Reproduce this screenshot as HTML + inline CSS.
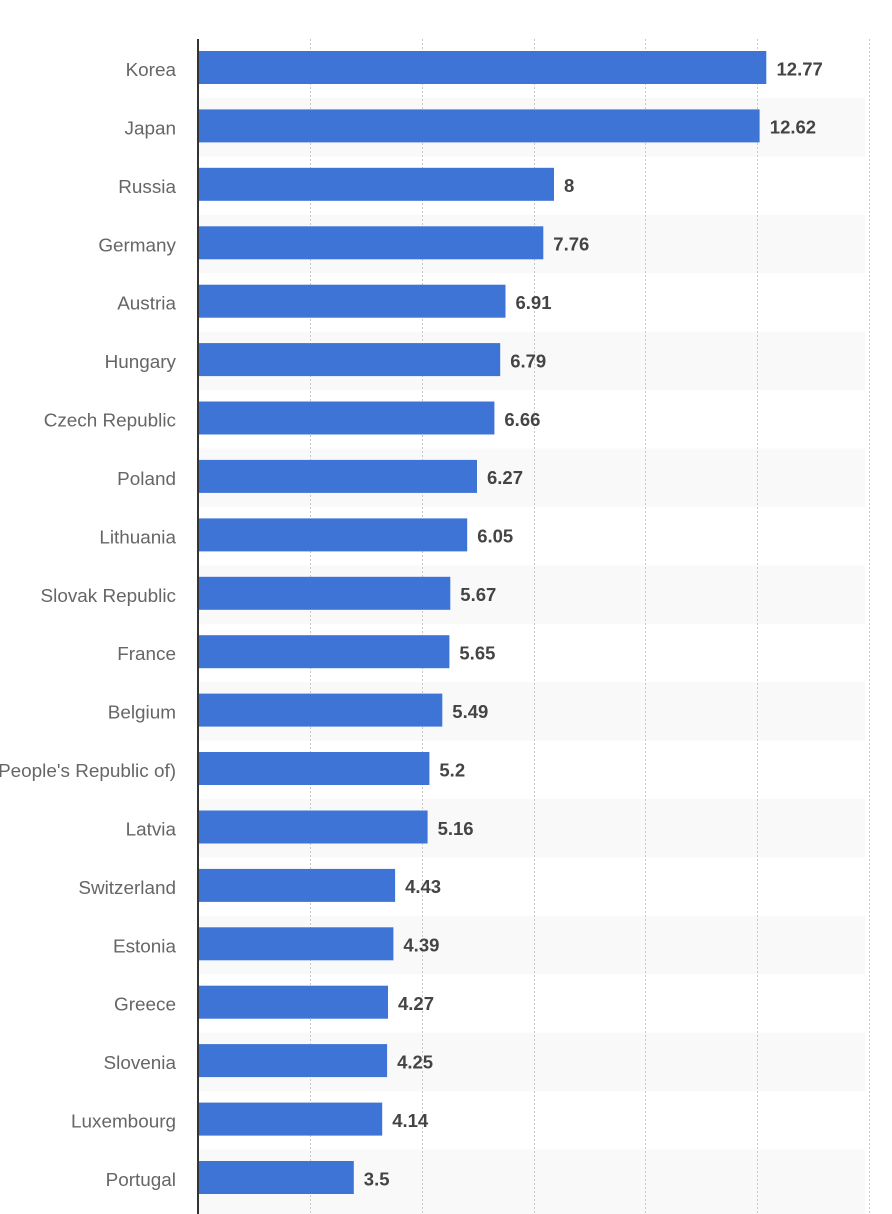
<!DOCTYPE html>
<html>
<head>
<meta charset="utf-8">
<style>
html,body{margin:0;padding:0;background:#fff;}
svg{display:block;}
.lab{font-family:"Liberation Sans",Arial,sans-serif;font-size:18.9px;fill:#666;}
.val{font-family:"Liberation Sans",Arial,sans-serif;font-size:18.5px;font-weight:bold;fill:#444;}
</style>
</head>
<body>
<svg width="892" height="1214" viewBox="0 0 892 1214" xmlns="http://www.w3.org/2000/svg">
<rect width="892" height="1214" fill="#fff"/>
<g fill="#f9f9f9">
<rect x="199" y="98" width="666" height="58.4"/>
<rect x="199" y="214.8" width="666" height="58.4"/>
<rect x="199" y="331.7" width="666" height="58.4"/>
<rect x="199" y="448.5" width="666" height="58.4"/>
<rect x="199" y="565.4" width="666" height="58.4"/>
<rect x="199" y="682.2" width="666" height="58.4"/>
<rect x="199" y="799" width="666" height="58.4"/>
<rect x="199" y="915.9" width="666" height="58.4"/>
<rect x="199" y="1032.7" width="666" height="58.4"/>
<rect x="199" y="1149.6" width="666" height="64.4"/>
</g>
<g stroke="#c8c8c8" stroke-width="1" stroke-dasharray="2,2">
<line x1="310.5" y1="39" x2="310.5" y2="1214"/>
<line x1="422.5" y1="39" x2="422.5" y2="1214"/>
<line x1="534.5" y1="39" x2="534.5" y2="1214"/>
<line x1="645.5" y1="39" x2="645.5" y2="1214"/>
<line x1="757.5" y1="39" x2="757.5" y2="1214"/>
<line x1="869.5" y1="39" x2="869.5" y2="1214"/>
</g>
<g fill="#3d74d6">
<rect x="198" y="51" width="568.3" height="33"/>
<rect x="198" y="109.4" width="561.6" height="33"/>
<rect x="198" y="167.8" width="356" height="33"/>
<rect x="198" y="226.3" width="345.3" height="33"/>
<rect x="198" y="284.7" width="307.5" height="33"/>
<rect x="198" y="343.1" width="302.2" height="33"/>
<rect x="198" y="401.5" width="296.4" height="33"/>
<rect x="198" y="459.9" width="279" height="33"/>
<rect x="198" y="518.4" width="269.2" height="33"/>
<rect x="198" y="576.8" width="252.3" height="33"/>
<rect x="198" y="635.2" width="251.4" height="33"/>
<rect x="198" y="693.6" width="244.3" height="33"/>
<rect x="198" y="752" width="231.4" height="33"/>
<rect x="198" y="810.5" width="229.6" height="33"/>
<rect x="198" y="868.9" width="197.1" height="33"/>
<rect x="198" y="927.3" width="195.4" height="33"/>
<rect x="198" y="985.7" width="190" height="33"/>
<rect x="198" y="1044.1" width="189.1" height="33"/>
<rect x="198" y="1102.6" width="184.2" height="33"/>
<rect x="198" y="1161" width="155.8" height="33"/>
</g>
<line x1="198" y1="39" x2="198" y2="1214" stroke="#333" stroke-width="2"/>
<g class="lab" text-anchor="end">
<text x="176" y="76">Korea</text>
<text x="176" y="134.4">Japan</text>
<text x="176" y="192.8">Russia</text>
<text x="176" y="251.3">Germany</text>
<text x="176" y="309.7">Austria</text>
<text x="176" y="368.1">Hungary</text>
<text x="176" y="426.5">Czech Republic</text>
<text x="176" y="484.9">Poland</text>
<text x="176" y="543.4">Lithuania</text>
<text x="176" y="601.8">Slovak Republic</text>
<text x="176" y="660.2">France</text>
<text x="176" y="718.6">Belgium</text>
<text x="176" y="777">China (People's Republic of)</text>
<text x="176" y="835.5">Latvia</text>
<text x="176" y="893.9">Switzerland</text>
<text x="176" y="952.3">Estonia</text>
<text x="176" y="1010.7">Greece</text>
<text x="176" y="1069.1">Slovenia</text>
<text x="176" y="1127.6">Luxembourg</text>
<text x="176" y="1186">Portugal</text>
</g>
<g class="val">
<text x="776.5" y="75.3">12.77</text>
<text x="769.8" y="133.7">12.62</text>
<text x="564" y="192.1">8</text>
<text x="553.3" y="250.6">7.76</text>
<text x="515.5" y="309">6.91</text>
<text x="510.2" y="367.4">6.79</text>
<text x="504.4" y="425.8">6.66</text>
<text x="487" y="484.2">6.27</text>
<text x="477.2" y="542.7">6.05</text>
<text x="460.3" y="601.1">5.67</text>
<text x="459.4" y="659.5">5.65</text>
<text x="452.3" y="717.9">5.49</text>
<text x="439.4" y="776.3">5.2</text>
<text x="437.6" y="834.8">5.16</text>
<text x="405.1" y="893.2">4.43</text>
<text x="403.4" y="951.6">4.39</text>
<text x="398" y="1010">4.27</text>
<text x="397.1" y="1068.4">4.25</text>
<text x="392.2" y="1126.9">4.14</text>
<text x="363.8" y="1185.3">3.5</text>
</g>
</svg>
</body>
</html>
